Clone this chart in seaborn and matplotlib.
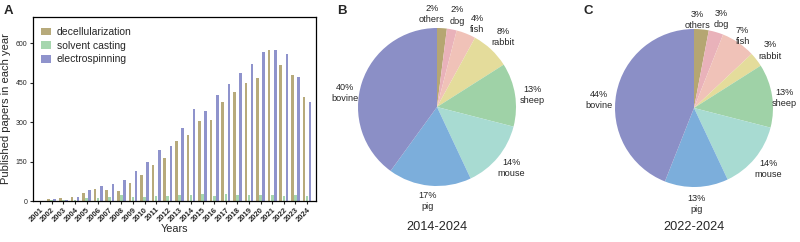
import numpy as np
import pandas as pd
import matplotlib
matplotlib.use("Agg")
import matplotlib.pyplot as plt
import seaborn as sns

# ---- data ----
years = list(range(2001, 2025))
decellularization = [0, 8, 12, 14, 30, 45, 42, 38, 68, 98, 138, 163, 230, 252,
                     303, 310, 375, 415, 450, 468, 576, 519, 478, 395]
solvent_casting = [1, 3, 3, 5, 10, 12, 15, 22, 15, 15, 20, 18, 25, 22,
                   28, 18, 27, 22, 25, 22, 22, 20, 22, 18]
electrospinning = [2, 8, 5, 16, 42, 58, 64, 82, 115, 147, 195, 211, 277, 350,
                   342, 405, 447, 488, 522, 566, 575, 559, 470, 378]

methods = ["decellularization", "solvent casting", "electrospinning"]
method_colors = ["#b7aa7b", "#a6d6ae", "#8f93cc"]

species = ["others", "dog", "fish", "rabbit", "sheep", "mouse", "pig", "bovine"]
share_2014_2024 = [2, 2, 4, 8, 13, 14, 17, 40]
share_2022_2024 = [3, 3, 7, 3, 13, 14, 13, 44]
species_colors = ["#b5a672", "#e9b2ba", "#f0c2b8", "#e4dc9b",
                  "#9fd2a7", "#a8dbd2", "#7caedb", "#8b8fc6"]

df = pd.DataFrame({
    "year": [str(y) for y in years] * 3,
    "count": decellularization + solvent_casting + electrospinning,
    "method": sum([[m] * len(years) for m in methods], []),
})

sns.set_theme(style="ticks")
plt.rcParams["font.family"] = ["Liberation Sans", "DejaVu Sans"]

fig = plt.figure(figsize=(8, 2.42), dpi=100)

# -------- A: grouped bars --------
ax = fig.add_axes([0.041, 0.169, 0.354, 0.761])
sns.barplot(data=df, x="year", y="count", hue="method", hue_order=methods,
            palette=method_colors, width=0.8, gap=0.15, ax=ax, saturation=1,
            linewidth=0, edgecolor="none")
ax.set_xlim(-0.63, 23.77)
ax.set_ylim(0, 700)
ax.set_yticks([0, 150, 300, 450, 600])
ax.tick_params(axis="y", labelsize=5, length=2.5, width=0.8, pad=1.5)
ax.tick_params(axis="x", labelsize=5.5, length=2.5, width=0.8, pad=1)
for lab in ax.get_xticklabels():
    lab.set_rotation(45)
    lab.set_ha("right")
    lab.set_rotation_mode("anchor")
    lab.set_fontweight("bold")
for s in ax.spines.values():
    s.set_linewidth(0.9)
    s.set_color("black")
ax.set_xlabel("Years", fontsize=7.8, labelpad=1)
ax.set_ylabel("Published papers in each year", fontsize=8, labelpad=3)
leg = ax.legend(loc="upper left", frameon=False, fontsize=7.5,
                handlelength=0.9, handleheight=0.8, handletextpad=0.6,
                labelspacing=0.35, borderaxespad=0.4, bbox_to_anchor=(0.0, 0.99))

fig.text(0.005, 0.955, "A", fontsize=9.5, fontweight="bold", va="center")


# -------- B / C: pies --------
def draw_pie(cx, cy, values, title, letter, lx, nudges):
    r_px = 79
    lim = 1.3
    w = 2 * lim * r_px / 800
    h = 2 * lim * r_px / 242
    pax = fig.add_axes([cx / 800 - w / 2, 1 - cy / 242 - h / 2, w, h])
    labels = [f"{v}%\n{n}" for v, n in zip(values, species)]
    wedges, texts = pax.pie(values, colors=species_colors, startangle=90,
                            counterclock=False, labels=labels,
                            labeldistance=1.22,
                            textprops=dict(fontsize=6.6, linespacing=1.3),
                            wedgeprops=dict(linewidth=0))
    for t, (dx, dy) in zip(texts, nudges):
        t.set_ha("center")
        t.set_va("center")
        x0, y0 = t.get_position()
        t.set_position((x0 + dx, y0 + dy))
    pax.set_xlim(-lim, lim)
    pax.set_ylim(-lim, lim)
    pax.set_aspect("equal")
    fig.text(cx / 800, 1 - 227 / 242, title, fontsize=9.2,
             ha="center", va="center")
    fig.text(lx / 800, 0.955, letter, fontsize=9.5, fontweight="bold",
             va="center")


# label nudges (others, dog, fish, rabbit, sheep, mouse, pig, bovine)
nudge_b = [(-0.14, -0.04), (0.03, -0.04), (0.06, -0.08), (0, 0),
           (0, -0.04), (0, 0), (0, 0.02), (0, -0.2)]
nudge_c = [(-0.07, -0.1), (0, -0.05), (-0.07, -0.1), (0, -0.02),
           (-0.06, -0.06), (0, 0), (0, 0), (0, -0.13)]
draw_pie(437, 107, share_2014_2024, "2014-2024", "B", 337, nudge_b)
draw_pie(694, 108, share_2022_2024, "2022-2024", "C", 584, nudge_c)

fig.savefig("out.png", dpi=100)
